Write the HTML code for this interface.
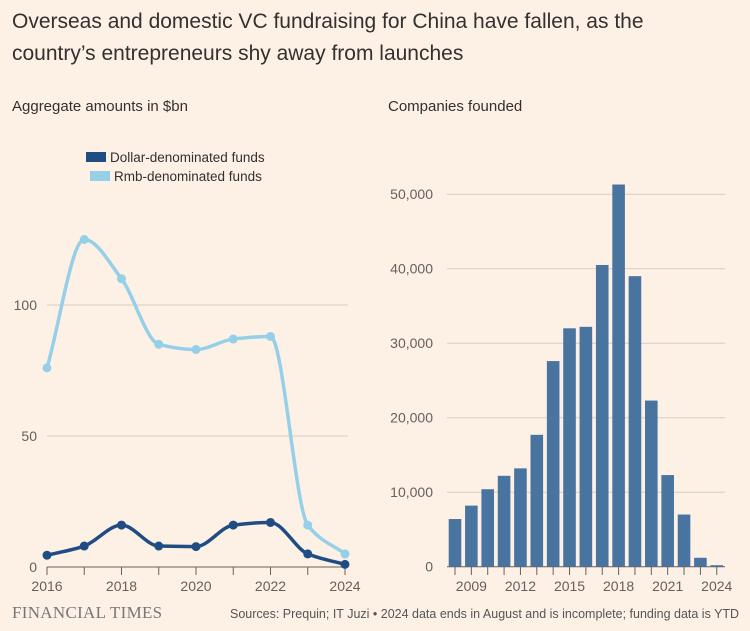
<!DOCTYPE html>
<html><head><meta charset="utf-8"><style>
body{margin:0;width:750px;height:631px;background:#fdf1e6;font-family:"Liberation Sans","Noto Sans CJK SC",sans-serif;color:#33302e;overflow:hidden;position:relative}
.t{position:absolute;white-space:nowrap}
</style></head><body>
<div class="t" style="left:12px;top:6px;font-size:21px;line-height:32px;color:#33302e">Overseas and domestic VC fundraising for China have fallen, as the<br>country’s entrepreneurs shy away from launches</div>
<div class="t" style="left:12px;top:98px;font-size:15px">Aggregate amounts in $bn</div>
<div class="t" style="left:388px;top:98px;font-size:15px">Companies founded</div>
<svg id="c" width="750" height="631" style="position:absolute;left:0;top:0"></svg>
<div class="t" style="left:12px;top:603px;font-family:'Liberation Serif',serif;font-size:17px;color:#777;letter-spacing:0.3px">FINANCIAL TIMES</div>
<div class="t" style="left:230px;top:607px;font-size:12.5px;color:#555">Sources: Prequin; IT Juzi • 2024 data ends in August and is incomplete; funding data is YTD</div>
<script>
const years=[2016,2017,2018,2019,2020,2021,2022,2023,2024];
const rmbValues=[76,125,110,85,83,87,88,16,5];
const dollarValues=[4.5,8,16,8,7.8,16,17,5,1];
const leftTicks=[0,50,100];
const leftXTicks=[2016,2018,2020,2022,2024];
const barYears=[2008,2009,2010,2011,2012,2013,2014,2015,2016,2017,2018,2019,2020,2021,2022,2023,2024];
const companies=[6400,8200,10400,12200,13200,17700,27600,32000,32200,40500,51300,39000,22300,12300,7000,1200,200];
const rightTicks=[0,10000,20000,30000,40000,50000];
const rightXTicks=[2009,2012,2015,2018,2021,2024];

const svg=document.getElementById('c');const NS='http://www.w3.org/2000/svg';
function mk(t,a,p){const e=document.createElementNS(NS,t);for(const k in a)e.setAttribute(k,a[k]);(p||svg).appendChild(e);return e;}
const lx=y=>47+(y-2016)*(345-47)/8;
const ly=v=>567-v*2.62;
leftTicks.forEach(v=>{
 const g=mk('line',{x1:47,x2:348,y1:ly(v),y2:ly(v),stroke:v===0?'#66605c':'#d8cdc2','stroke-width':1});
 
 const t=mk('text',{x:37,y:ly(v)+5,'text-anchor':'end','font-size':14,fill:'#66605c'});t.textContent=v;
 
});
years.forEach(y=>{const l=mk('line',{x1:lx(y),x2:lx(y),y1:567,y2:575,stroke:'#66605c'});});
leftXTicks.forEach(y=>{const t=mk('text',{x:lx(y),y:591,'text-anchor':'middle','font-size':14,fill:'#66605c'});t.textContent=y;
 });
function smooth(pts){
 const n=pts.length,dx=[],s=[],m=[];
 for(let i=0;i<n-1;i++){dx[i]=pts[i+1][0]-pts[i][0];s[i]=(pts[i+1][1]-pts[i][1])/dx[i];}
 m[0]=s[0];m[n-1]=s[n-2];
 for(let i=1;i<n-1;i++){m[i]=(s[i-1]*s[i]<=0)?0:3*(dx[i-1]+dx[i])/((2*dx[i]+dx[i-1])/s[i-1]+(dx[i]+2*dx[i-1])/s[i]);}
 let d='M'+pts[0][0]+','+pts[0][1];
 for(let i=0;i<n-1;i++){const h=dx[i]/3;
  d+=' C'+(pts[i][0]+h)+','+(pts[i][1]+m[i]*h)+' '+(pts[i+1][0]-h)+','+(pts[i+1][1]-m[i+1]*h)+' '+pts[i+1][0]+','+pts[i+1][1];}
 return d;}
function series(vals,col,name){
 const pts=vals.map((v,i)=>[lx(years[i]),ly(v)]);
 const p=mk('path',{d:smooth(pts),fill:'none',stroke:col,'stroke-width':3.5});
 
 pts.forEach(q=>{const c=mk('circle',{cx:q[0],cy:q[1],r:4.5,fill:col});});
}
series(rmbValues,'#96cfe8','rmb');
series(dollarValues,'#1f4d83','dollar');
[['#1f4d83','Dollar-denominated funds',158],['#96cfe8','Rmb-denominated funds',177]].forEach(([c,l,y],i)=>{
 const r=mk('rect',{x:86+i*4,y:y-6,width:20,height:10,fill:c});
 const t=mk('text',{x:110+i*4,y:y+4,'font-size':13.5,fill:'#33302e'});t.textContent=l;
});
const bx=y=>455+(y-2008)*16.36;
const by=v=>566.7-v*0.00745;
rightTicks.forEach(v=>{
 const g=mk('line',{x1:447,x2:725,y1:by(v),y2:by(v),stroke:v===0?'#66605c':'#d8cdc2','stroke-width':1});
 
 const t=mk('text',{x:433,y:by(v)+5,'text-anchor':'end','font-size':14,fill:'#66605c'});t.textContent=v.toLocaleString('en-US');
 
});
companies.forEach((v,i)=>{
 const r=mk('rect',{x:bx(barYears[i])-6.3,y:by(v),width:12.6,height:by(0)-by(v),fill:'#4a74a0'});
 
 const l=mk('line',{x1:bx(barYears[i]),x2:bx(barYears[i]),y1:567,y2:575,stroke:'#66605c'});
});
rightXTicks.forEach(y=>{const t=mk('text',{x:bx(y),y:591,'text-anchor':'middle','font-size':14,fill:'#66605c'});t.textContent=y;
 });
</script>
</body></html>
